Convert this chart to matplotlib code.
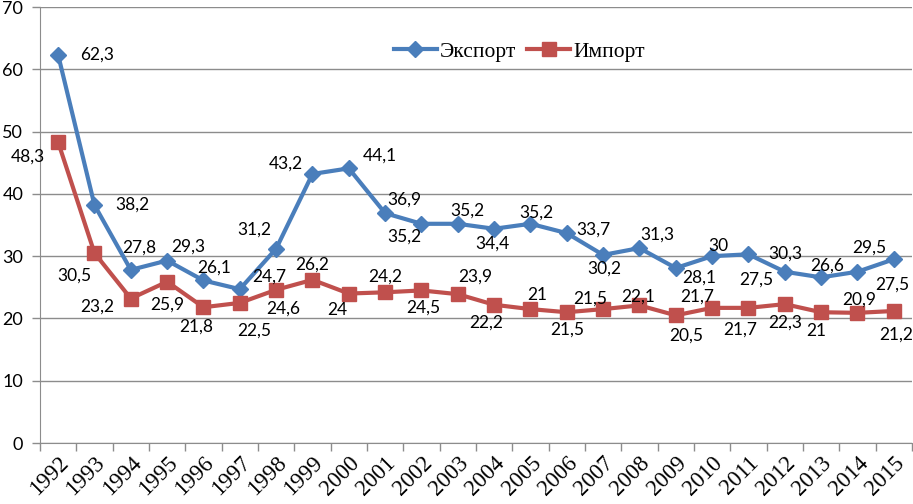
import matplotlib.pyplot as plt

# Data
years = [str(y) for y in range(1992, 2016)]
export = [62.3, 38.2, 27.8, 29.3, 26.1, 24.7, 31.2, 43.2, 44.1, 36.9, 35.2, 35.2,
          34.4, 35.2, 33.7, 30.2, 31.3, 28.1, 30.0, 30.3, 27.5, 26.6, 27.5, 29.5]
imports = [48.3, 30.5, 23.2, 25.9, 21.8, 22.5, 24.6, 26.2, 24.0, 24.2, 24.5, 23.9,
           22.2, 21.5, 21.0, 21.5, 22.1, 20.5, 21.7, 21.7, 22.3, 21.0, 20.9, 21.2]
y_ticks = [0, 10, 20, 30, 40, 50, 60, 70]

# label offsets in pixels (dx, dy), y up
export_off = [(39, 0), (38, 0), (8, 22), (21, 14), (11, 13), (29, 13), (-22, 19),
              (-27, 10), (31, 13), (19, 14), (-17, -13), (10, 13), (-2, -15),
              (6, 11), (27, 4), (1, -14), (18, 13), (23, -10), (6, 10), (37, 1),
              (-28, -8), (6, 12), (35, -13), (-24, 12)]
import_off = [(-30, -14), (-20, -23), (-34, -8), (0, -23), (-7, -19), (14, -28),
              (7, -19), (0, 15), (-12, -16), (0, 16), (2, -17), (17, 18), (-8, -18),
              (37, -21), (-30, 17), (-13, 10), (-1, 9), (10, -20), (-15, 11), (-8, -22),
              (0, -18), (-5, -19), (2, 13), (2, -24)]

BLUE = '#4a7ebb'
RED = '#c0504d'
GRID = '#8c8c8c'


def fmt(v):
    return f'{v:g}'.replace('.', ',')


def main():
    fig = plt.figure(figsize=(9.13, 5.04), dpi=100)
    ax = fig.add_axes([0.0438, 0.121, 0.955, 0.865])
    x = list(range(len(years)))

    ax.plot(x, export, color=BLUE, lw=3, marker='D', ms=8.5, label='Экспорт', zorder=3)
    ax.plot(x, imports, color=RED, lw=3, marker='s', ms=10, label='Импорт', zorder=3)

    for i, v in enumerate(export):
        ax.annotate(fmt(v), (i, v), xytext=export_off[i], textcoords='offset pixels',
                    ha='center', va='center', fontsize=12.5, family='Lato', zorder=4)
    for i, v in enumerate(imports):
        ax.annotate(fmt(v), (i, v), xytext=import_off[i], textcoords='offset pixels',
                    ha='center', va='center', fontsize=12.5, family='Lato', zorder=4)

    ax.set_xlim(-0.5, len(years) - 0.5)
    ax.set_ylim(0, 70)
    ax.set_yticks(y_ticks)
    ax.set_yticklabels([str(t) for t in y_ticks], family='Lato', fontsize=13)
    ax.yaxis.grid(True, color=GRID, lw=1)
    ax.set_axisbelow(True)

    # category ticks on boundaries, labels at centres
    ax.set_xticks([i - 0.5 for i in range(len(years) + 1)])
    ax.set_xticklabels([])
    ax.set_xticks(x, minor=True)
    ax.set_xticklabels(years, minor=True, rotation=45, ha='right', va='top',
                       rotation_mode='anchor', family='Liberation Serif', fontsize=16.5)
    ax.tick_params(axis='x', which='major', length=6, color=GRID, width=1)
    ax.tick_params(axis='x', which='minor', length=0, pad=7)
    ax.tick_params(axis='y', length=6, color=GRID, width=1, pad=6)

    for s in ['top', 'right']:
        ax.spines[s].set_visible(False)
    for s in ['left', 'bottom']:
        ax.spines[s].set_color(GRID)

    ax.legend(loc='center', bbox_to_anchor=(0.55, 0.897), ncol=2, frameon=False,
              prop={'family': 'Liberation Serif', 'size': 15.5}, handlelength=2.0,
              columnspacing=0.5, handletextpad=0.15)

    fig.savefig('out.png', dpi=100)


if __name__ == '__main__':
    main()
